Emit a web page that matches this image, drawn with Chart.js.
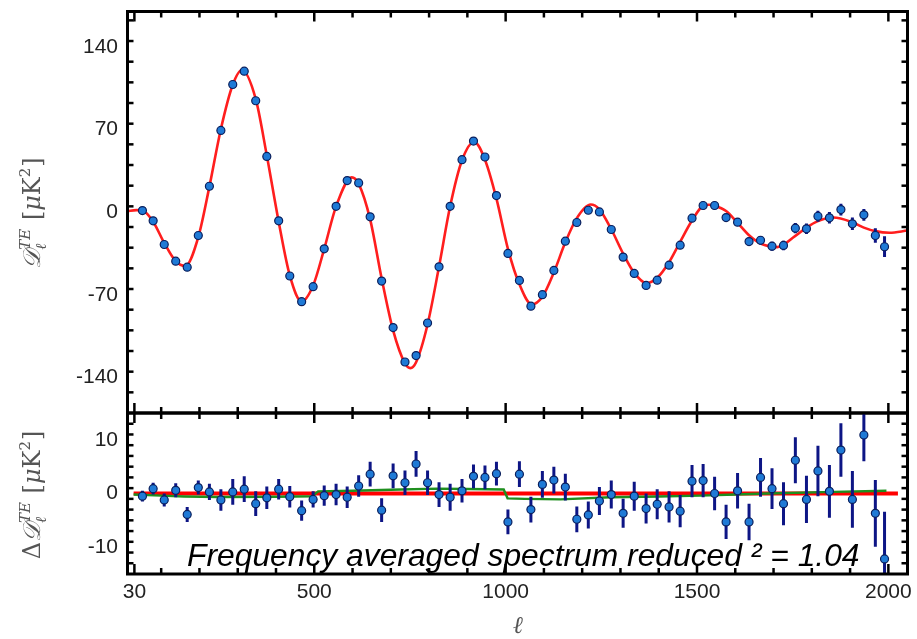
<!DOCTYPE html>
<html>
<head>
<meta charset="utf-8">
<script src="https://cdn.jsdelivr.net/npm/chart.js@4.4.1/dist/chart.umd.min.js"></script>
<style>
  html, body { margin: 0; padding: 0; background: #fff; }
  #wrap { position: relative; width: 917px; height: 639px; }
  canvas { position: absolute; left: 0; }
  #top { top: 0; }
  #bottom { top: 400px; }
</style>
</head>
<body>
<div id="wrap">
  <canvas id="top" width="917" height="420"></canvas>
  <canvas id="bottom" width="917" height="239"></canvas>
</div>
<script>
// binned multipoles and TE band powers
const ell = [51, 79, 108, 138, 168, 197, 226, 256, 287, 317, 347, 376, 407, 436, 467, 497, 526, 557, 586, 616,
  646, 676, 706, 737, 766, 796, 826, 855, 886, 916, 946, 976, 1006, 1036, 1066, 1096, 1126, 1156, 1186, 1216,
  1245, 1276, 1307, 1336, 1367, 1396, 1427, 1456, 1487, 1516, 1546, 1576, 1606, 1636, 1666, 1696, 1726, 1757, 1786, 1816,
  1846, 1876, 1906, 1936, 1966, 1990];
const dte = [1.4, -7.3, -27.3, -41.4, -46.5, -19.7, 22, 69.3, 108.2, 119.5, 94.4, 47.3, -7.3, -54, -75.7, -63, -31, 5, 26.8, 24.8,
  -3.9, -58.3, -97.7, -126.8, -121.4, -93.8, -46.2, 5, 44.5, 60.3, 46.8, 14.1, -34.9, -57.7, -79.5, -69.8, -49.3, -24.5, -8.7, 1.7,
  0.3, -14.6, -38, -51.8, -62, -57.5, -44.8, -27.9, -5, 5.7, 5.7, -4.5, -8.4, -24.8, -23.7, -28.7, -28.1, -13.5, -14, -3.4,
  -4.7, 2.3, -9.8, -2.2, -19.7, -29.2];
const residual = [-0.5, 0.9, -1.2, 0.6, -3.9, 1.1, 0.3, -1.2, 0.3, 0.8, -1.9, -0.8, 0.8, -0.6, -3.2, -1.1, -0.4, -0.2, -0.7, 1.4,
  3.6, -3.1, 3.3, 2.0, 5.5, 2.0, -0.2, -0.7, 0.5, 3.2, 3.0, 3.7, -5.3, 3.6, -3.0, 1.7, 2.5, 1.2, -4.8, -4.0,
  -1.4, -0.2, -3.7, -0.5, -2.8, -2.0, -2.5, -3.3, 2.3, 2.4, 0, -5.3, 0.5, -5.3, 3.0, 0.9, -1.9, 6.2, -1.1, 4.2,
  0.4, 8.1, -1.1, 10.9, -3.7, -12.2];
const errors = [1.0, 1.1, 1.2, 1.3, 1.4, 1.3, 1.5, 2.0, 2.4, 2.4, 2.3, 2.1, 1.9, 2.0, 1.9, 1.5, 1.9, 2.0, 2.0, 2.0,
  2.3, 2.2, 2.3, 2.3, 2.4, 2.3, 2.3, 2.5, 2.2, 2.2, 2.2, 2.2, 2.3, 2.4, 2.4, 2.5, 2.5, 2.5, 2.4, 2.5,
  2.6, 2.6, 2.7, 2.7, 2.8, 2.8, 2.9, 3.0, 3.0, 3.1, 3.1, 3.2, 3.3, 3.4, 3.6, 3.8, 4.0, 4.3, 4.4, 4.7,
  4.9, 5.0, 5.3, 4.9, 6.2, 8.8];

// best-fit model curve (red)
const modelEll = [12, 35, 51, 79, 108, 138, 163, 197, 226, 256, 287, 311, 347, 376, 407, 436, 467, 497, 526, 557,
  598, 616, 646, 676, 706, 737, 751, 766, 796, 826, 855, 886, 918, 946, 976, 1006, 1036, 1068, 1096, 1126,
  1156, 1186, 1222, 1245, 1276, 1307, 1336, 1368, 1396, 1427, 1456, 1487, 1516, 1531, 1546, 1576, 1606, 1636, 1666, 1710,
  1757, 1786, 1816, 1856, 1906, 1936, 1966, 2003, 2050];
const modelDte = [0.8, 1.8, 1.4, -8, -26, -41.5, -45.5, -21, 21.7, 70.5, 108, 120.5, 96, 48, -8, -53.5, -75.5, -62, -31, 5,
  29.5, 24, -6, -56, -100, -128, -132, -127, -95, -46, 5, 44, 59.5, 44.5, 11.5, -31, -61, -78, -71.5, -51,
  -25.5, -5, 6.5, 2.5, -14.4, -35, -51.3, -60, -55.5, -42.3, -25, -7, 5.5, 6.3, 5.5, 1, -9, -19.5, -26.5, -29.5,
  -20, -13, -7.5, -4.5, -8.5, -13, -16, -17.3, -15.5];

// residual panel reference lines
const zeroEll = [28, 2025];
const zeroVal = [0, 0];
const greenEll = [28, 100, 160, 250, 400, 495, 510, 600, 700, 820, 900, 995, 1005, 1050, 1143, 1273, 1400, 1509, 1600, 1683, 1857, 1995];
const greenVal = [-0.2, -0.4, -0.55, -0.65, -0.6, -0.5, 0.4, 0.5, 0.7, 0.9, 0.85, 0.75, -0.9, -1.0, -1.1, -0.7, -0.55, -0.4, -0.2, 0, 0.3, 0.5];

const xTicks = [30, 500, 1000, 1500, 2000];
const yTicksTop = [-140, -70, 0, 70, 140];
const yTicksBottom = [-10, 0, 10];

const pts = (xs, ys) => xs.map((x, i) => ({ x: x, y: ys[i] }));

const labelFont = '21px "Liberation Sans", Arial, sans-serif';

function drawYTitle(ctx, cx, cy, withDelta) {
  const up = '24px "DejaVu Serif", serif';
  const it = 'italic 24px "DejaVu Serif", serif';
  const sm = 'italic 15px "DejaVu Serif", serif';
  const smUp = '15px "DejaVu Serif", serif';
  const parts = [];
  if (withDelta) parts.push({ t: '\u0394', f: up });
  parts.push({ t: '\uD835\uDC9F', f: it });
  parts.push({ sub: '\u2113', sup: 'TE', f: sm });
  parts.push({ t: ' [', f: up });
  parts.push({ t: '\u03BC', f: it });
  parts.push({ t: 'K', f: up });
  parts.push({ sup: '2', f: smUp });
  parts.push({ t: ']', f: up });

  let total = 0;
  parts.forEach(p => {
    ctx.font = p.f;
    if (p.t) p.w = ctx.measureText(p.t).width;
    else p.w = Math.max(p.sub ? ctx.measureText(p.sub).width : 0, p.sup ? ctx.measureText(p.sup).width : 0) + 1;
    total += p.w;
  });

  ctx.save();
  ctx.translate(cx, cy);
  ctx.rotate(-Math.PI / 2);
  ctx.fillStyle = '#555';
  ctx.textBaseline = 'alphabetic';
  ctx.textAlign = 'left';
  let x = -total / 2;
  parts.forEach(p => {
    ctx.font = p.f;
    if (p.t) ctx.fillText(p.t, x, 0);
    if (p.sub) ctx.fillText(p.sub, x, 6);
    if (p.sup) ctx.fillText(p.sup, x, -10);
    x += p.w;
  });
  ctx.restore();
}

function line(ctx, x1, y1, x2, y2) {
  ctx.beginPath();
  ctx.moveTo(x1, y1);
  ctx.lineTo(x2, y2);
  ctx.stroke();
}

// frame, inward ticks, tick labels
function axesPlugin(yTicks, yMinorStep, showX, extra) {
  return {
    id: 'axes',
    afterDraw(chart) {
      const { ctx, chartArea: a, scales } = chart;
      const xs = scales.x, ys = scales.y;
      ctx.save();
      ctx.strokeStyle = '#000';
      ctx.lineWidth = 2.5;
      for (let v = 100; v <= 2000; v += 100) {
        const p = xs.getPixelForValue(v);
        const len = xTicks.includes(v) ? 10 : 6;
        line(ctx, p, a.top, p, a.top + len);
        line(ctx, p, a.bottom, p, a.bottom - len);
      }
      const p30 = xs.getPixelForValue(30);
      line(ctx, p30, a.top, p30, a.top + 10);
      line(ctx, p30, a.bottom, p30, a.bottom - 10);

      const yMax = ys.max;
      for (let v = -yMax + yMinorStep; v < yMax; v += yMinorStep) {
        const p = ys.getPixelForValue(v);
        const major = yTicks.some(t => Math.abs(t - v) < 1e-6);
        const len = major ? 10 : 6;
        line(ctx, a.left, p, a.left + len, p);
        line(ctx, a.right, p, a.right - len, p);
      }

      ctx.lineWidth = 3;
      ctx.strokeRect(a.left, a.top, a.right - a.left, a.bottom - a.top);

      ctx.fillStyle = '#222';
      ctx.font = labelFont;
      ctx.textAlign = 'right';
      ctx.textBaseline = 'middle';
      yTicks.forEach(v => ctx.fillText(String(v), a.left - 9.5, ys.getPixelForValue(v)));

      if (showX) {
        ctx.textAlign = 'center';
        xTicks.forEach(v => ctx.fillText(String(v), xs.getPixelForValue(v), a.bottom + 18));
      }
      ctx.restore();
      if (extra) extra(ctx, a);
    }
  };
}

// vertical error bars, drawn just before the data points
function errorBarPlugin(values) {
  return {
    id: 'errbars',
    beforeDatasetDraw(chart, args) {
      if (args.index !== 0) return;
      const { ctx, chartArea: a, scales } = chart;
      ctx.save();
      ctx.beginPath();
      ctx.rect(a.left, a.top, a.right - a.left, a.bottom - a.top);
      ctx.clip();
      ctx.strokeStyle = '#0d1585';
      ctx.lineWidth = 3;
      ell.forEach((l, i) => {
        const px = scales.x.getPixelForValue(l);
        line(ctx, px, scales.y.getPixelForValue(values[i] - errors[i]), px, scales.y.getPixelForValue(values[i] + errors[i]));
      });
      ctx.restore();
    }
  };
}

const pointStyle = {
  showLine: false,
  pointRadius: 4,
  pointBackgroundColor: '#1f7ad6',
  pointBorderColor: '#0b1f5c',
  pointBorderWidth: 1.2
};

const common = {
  responsive: false,
  devicePixelRatio: 1,
  animation: false,
  plugins: { legend: { display: false }, tooltip: { enabled: false } }
};

new Chart(document.getElementById('top'), {
  type: 'scatter',
  data: {
    datasets: [
      Object.assign({ data: pts(ell, dte) }, pointStyle),
      {
        type: 'line',
        data: pts(modelEll, modelDte),
        borderColor: '#ff1e1e',
        borderWidth: 2.6,
        pointRadius: 0,
        cubicInterpolationMode: 'monotone',
        fill: false
      }
    ]
  },
  options: Object.assign({}, common, {
    layout: { padding: { left: 127.5, right: 9.5, top: 11.5, bottom: 7 } },
    scales: {
      x: { type: 'linear', min: 12, max: 2050, display: false },
      y: { type: 'linear', min: -170, max: 170, display: false }
    }
  }),
  plugins: [
    errorBarPlugin(dte),
    axesPlugin(yTicksTop, 17.5, false, (ctx) => drawYTitle(ctx, 40, 213, false))
  ]
});

new Chart(document.getElementById('bottom'), {
  type: 'scatter',
  data: {
    datasets: [
      Object.assign({ data: pts(ell, residual) }, pointStyle),
      {
        type: 'line',
        data: pts(greenEll, greenVal),
        borderColor: '#1f8f1f',
        borderWidth: 2.4,
        pointRadius: 0,
        tension: 0,
        fill: false
      },
      {
        type: 'line',
        data: pts(zeroEll, zeroVal),
        borderColor: '#ff0000',
        borderWidth: 4,
        pointRadius: 0,
        fill: false
      }
    ]
  },
  options: Object.assign({}, common, {
    layout: { padding: { left: 127.5, right: 9.5, top: 13, bottom: 65 } },
    scales: {
      x: { type: 'linear', min: 12, max: 2050, display: false },
      y: { type: 'linear', min: -15, max: 15, display: false }
    }
  }),
  plugins: [
    errorBarPlugin(residual),
    axesPlugin(yTicksBottom, 2, true, (ctx, a) => {
      drawYTitle(ctx, 40, 95, true);
      ctx.save();
      ctx.fillStyle = '#555';
      ctx.font = 'italic 24px "DejaVu Serif", serif';
      ctx.textAlign = 'center';
      ctx.textBaseline = 'alphabetic';
      ctx.fillText('\u2113', 518, 233);
      ctx.fillStyle = '#000';
      ctx.font = 'italic 31.8px "Liberation Sans", Arial, sans-serif';
      ctx.textAlign = 'left';
      ctx.fillText('Frequency averaged spectrum reduced \u00B2 = 1.04', 187, 166);
      ctx.restore();
    })
  ]
});
</script>
</body>
</html>
